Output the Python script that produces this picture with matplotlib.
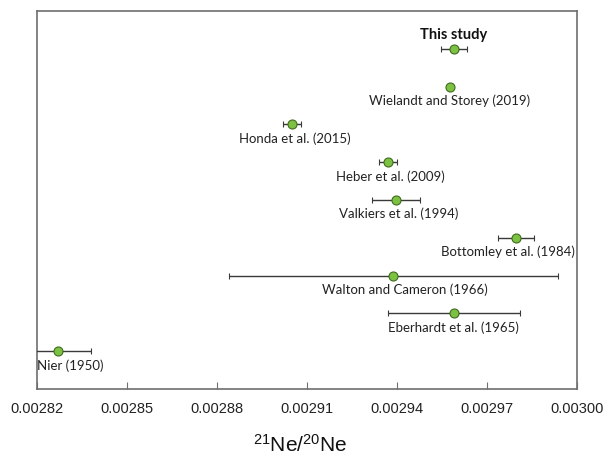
import matplotlib
matplotlib.use("Agg")
import matplotlib.pyplot as plt
import numpy as np

# Data
studies = ["This study", "Wielandt and Storey (2019)", "Honda et al. (2015)",
           "Heber et al. (2009)", "Valkiers et al. (1994)", "Bottomley et al. (1984)",
           "Walton and Cameron (1966)", "Eberhardt et al. (1965)", "Nier (1950)"]
ratio = [0.0029589, 0.0029576, 0.0029051, 0.0029369, 0.0029395,
         0.0029798, 0.0029388, 0.0029589, 0.0028269]
error = [0.0000043, 0.0, 0.0000030, 0.0000030, 0.0000080,
         0.0000060, 0.0000549, 0.0000220, 0.0000110]
xticks = [0.00282, 0.00285, 0.00288, 0.00291, 0.00294, 0.00297, 0.00300]
xtick_labels = ["0.00282", "0.00285", "0.00288", "0.00291", "0.00294", "0.00297", "0.00300"]

# label offsets in points (style only)
label_dx = [0, 0, 2, 2, 2, -6, 8, 0, 8]

plt.rcParams['mathtext.fontset'] = 'custom'
plt.rcParams['mathtext.rm'] = 'Liberation Sans'
plt.rcParams['mathtext.it'] = 'Liberation Sans:italic'

fig = plt.figure(figsize=(6.05, 4.56), dpi=100)
ax = fig.add_axes([37/605, 1-390/456, 540/605, 378/456])

n = len(studies)
ypos = np.arange(n, 0, -1)

ax.errorbar(ratio, ypos, xerr=error, fmt='o', color='#3a3a3a', ecolor='#3a3a3a',
            elinewidth=1.0, capsize=2.5, capthick=1.0,
            markerfacecolor='#7dc142', markeredgecolor='#3f6b1f', markeredgewidth=0.8,
            markersize=6.5, zorder=3, clip_on=True)

for i, (name, xv, yv) in enumerate(zip(studies, ratio, ypos)):
    if i == 0:
        ax.annotate(name, (xv, yv), xytext=(0, 11), textcoords='offset points',
                    ha='center', va='center', fontsize=10.5, fontweight='bold',
                    family=['Lato', 'DejaVu Sans'], color='#111111')
    elif i == n - 1:
        ax.annotate(name, (0, yv), xycoords=('axes fraction', 'data'),
                    xytext=(0, -9.5), textcoords='offset points',
                    ha='left', va='center', fontsize=9.5,
                    family=['Lato', 'DejaVu Sans'], color='#222222')
    else:
        ax.annotate(name, (xv, yv), xytext=(label_dx[i], -9.5), textcoords='offset points',
                    ha='center', va='center', fontsize=9.5,
                    family=['Lato', 'DejaVu Sans'], color='#222222')

ax.set_xlim(xticks[0], xticks[-1])
ax.set_ylim(0, n + 1)
ax.set_xticks(xticks)
ax.set_xticklabels(xtick_labels, family='Liberation Sans', fontsize=10.5, color='#222222')
ax.set_yticks([])
ax.tick_params(axis='x', direction='in', length=5, width=0.8, color='#707070', pad=9)

for s in ax.spines.values():
    s.set_color('#6e6e6e')
    s.set_linewidth(1.2)

ax.set_xlabel(r'$^{21}\mathrm{Ne}/^{20}\mathrm{Ne}$', fontsize=15, color='#111111')
ax.xaxis.set_label_coords((300-37)/540, -(452-390)/378, transform=ax.transAxes)
ax.xaxis.label.set_va('baseline')

fig.savefig("out.png", dpi=100, facecolor='white')
